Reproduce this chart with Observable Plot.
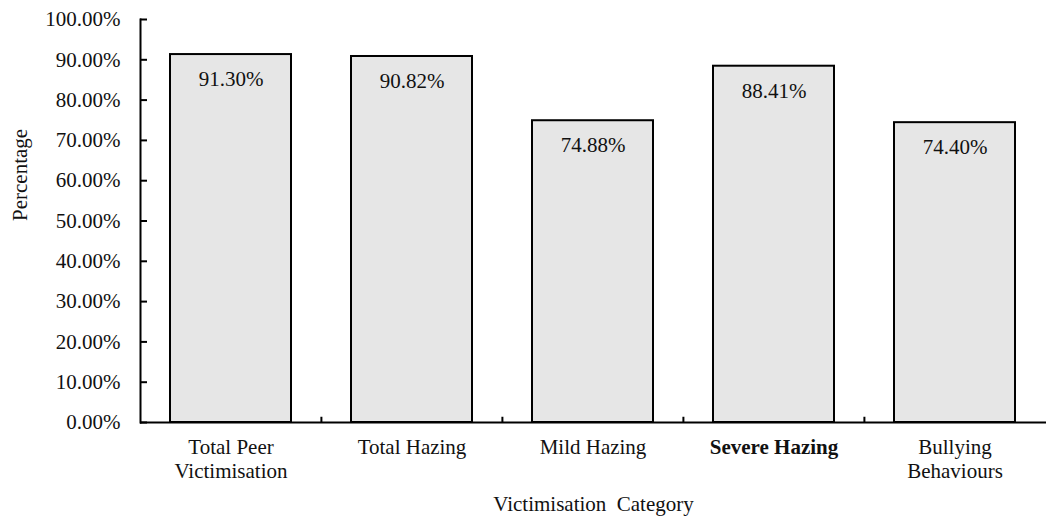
<!DOCTYPE html>
<html>
<head>
<meta charset="utf-8">
<script src="https://cdn.jsdelivr.net/npm/d3@7"></script>
<script src="https://cdn.jsdelivr.net/npm/@observablehq/plot@0.6"></script>
<style>
  html, body { margin: 0; padding: 0; background: #fff; }
  svg, svg text { font-family: "Liberation Serif", "Times New Roman", serif !important; }
</style>
</head>
<body>
<div id="chart"></div>
<script>
const categories = ["Total Peer Victimisation", "Total Hazing", "Mild Hazing", "Severe Hazing", "Bullying Behaviours"];
const tickLabels = ["Total Peer\nVictimisation", "Total Hazing", "Mild Hazing", "Severe Hazing", "Bullying\nBehaviours"];
const values = [91.30, 90.82, 74.88, 88.41, 74.40];
const yTicks = [0, 10, 20, 30, 40, 50, 60, 70, 80, 90, 100];
const boldCategories = ["Severe Hazing"];
const xTitle = "Victimisation\u00a0 Category";
const yTitle = "Percentage";

const data = categories.map((c, i) => ({category: c, value: values[i]}));
const labelOf = new Map(categories.map((c, i) => [c, tickLabels[i]]));

const W = 1046, H = 523;
const mL = 140, mR = 0, mT = 19, mB = 101;
const step = (W - mL - mR) / categories.length;
const FF = "'Liberation Serif', 'Times New Roman', serif";

const chart = Plot.plot({
  width: W,
  height: H,
  marginLeft: mL,
  marginRight: mR,
  marginTop: mT,
  marginBottom: mB,
  style: {fontFamily: FF, background: "#fff", color: "#000"},
  x: {domain: categories, paddingInner: 0.33, paddingOuter: 0.165, label: null},
  y: {domain: [0, 100], label: null},
  marks: [
    Plot.barY(data, {x: "category", y: "value", fill: "#e6e6e6", stroke: "#000", strokeWidth: 2}),
    Plot.text(data, {x: "category", y: "value", text: d => d.value.toFixed(2) + "%", dy: 25, fontSize: 21, fontFamily: FF, fill: "#111"}),
    Plot.frame({anchor: "left", stroke: "#000", strokeWidth: 2}),
    Plot.ruleY([0], {stroke: "#000", strokeWidth: 2}),
    Plot.axisY({ticks: yTicks, anchor: "left", tickSize: -7, strokeWidth: 2, tickFormat: () => "", label: null}),
    Plot.axisY({ticks: yTicks, anchor: "left", tickSize: 0, tickPadding: 20, tickFormat: d => d.toFixed(2) + "%", fontSize: 21, fontFamily: FF, label: null, fill: "#111"}),
    Plot.ruleX(categories.slice(1), {x: d => d, dx: -step / 2, y1: 0, y2: 1.3, stroke: "#000", strokeWidth: 2}),
    Plot.axisX({ticks: categories.filter(c => !boldCategories.includes(c)), tickSize: 0, tickPadding: 15, tickFormat: c => labelOf.get(c), fontSize: 21, lineHeight: 1.12, fontFamily: FF, label: null, fill: "#111"}),
    Plot.axisX({ticks: boldCategories, tickSize: 0, tickPadding: 15, tickFormat: c => labelOf.get(c), fontSize: 21, lineHeight: 1.12, fontFamily: FF, fontWeight: "bold", label: null, fill: "#111"}),
    Plot.text([xTitle], {frameAnchor: "bottom", dy: 88, fontSize: 21, fontFamily: FF, fill: "#111"}),
    Plot.text([yTitle], {frameAnchor: "left", dx: -120, rotate: -90, fontSize: 21, fontFamily: FF, fill: "#111"})
  ]
});

document.getElementById("chart").appendChild(chart);
</script>
</body>
</html>
